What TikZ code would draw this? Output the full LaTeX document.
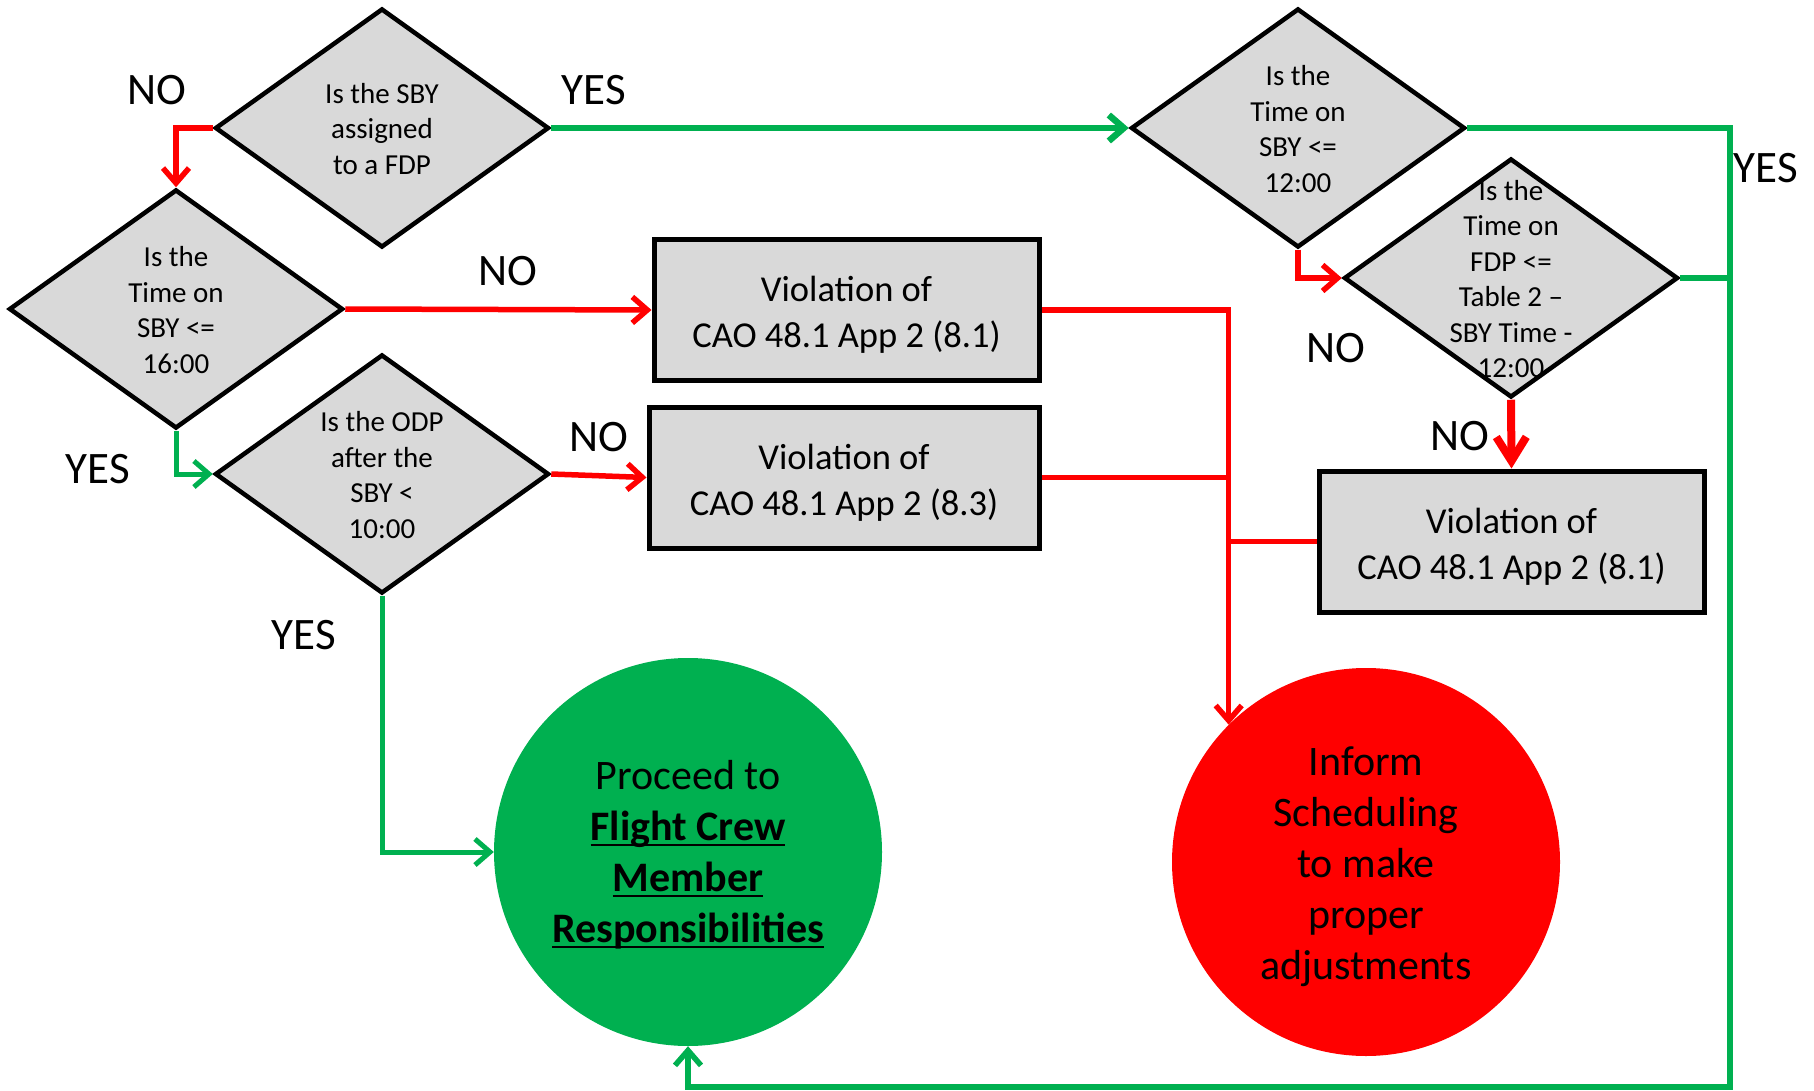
\documentclass[tikz,border=0pt]{standalone}
\usepackage{fontspec}
\setmainfont{Carlito}
\usetikzlibrary{shapes.geometric,arrows.meta,calc}
\definecolor{ggreen}{HTML}{00B050}
\definecolor{gfill}{HTML}{D9D9D9}
\newcommand\myul[1]{\setbox0\hbox{#1}\rlap{\rule[-6pt]{\wd0}{2.6pt}}\box0}
\begin{document}
\begin{tikzpicture}[x=1pt,y=-1pt,
 dia/.style={diamond, draw, line width=4.5pt, fill=gfill, minimum width=334pt, minimum height=239pt, inner sep=0pt},
 dtext/.style={font=\fontsize{29}{35.5}\selectfont, align=center, inner sep=0pt, yshift=-1pt},
 vbox/.style={rectangle, draw, line width=5pt, fill=gfill, minimum width=385pt, minimum height=140pt},
 btext/.style={align=center, font=\fontsize{36.5}{46}\selectfont, inner sep=0pt, yshift=-5pt},
 circ/.style={circle, minimum size=388pt, inner sep=0pt},
 ctext/.style={align=center, font=\fontsize{42}{51}\selectfont, inner sep=0pt},
 lbl/.style={font=\fontsize{45}{54}\selectfont, inner sep=0pt},
 gl/.style={draw=ggreen, line width=6.5pt},
 rl/.style={draw=red, line width=5.5pt},
 tip/.style={-{Straight Barb[length=15pt,width=26pt]}},
 bigtip/.style={-{Straight Barb[length=24pt,width=30pt]}},
]
\fill[white] (0,0) rectangle (1814,1091);
\useasboundingbox (0,0) rectangle (1814,1091);

% diamonds
\node[dia, label={[dtext]center:{Is the SBY\\assigned\\to a FDP}}] (d1) at (382,128) {};
\node[dia, label={[dtext]center:{Is the\\Time on\\SBY <=\\16:00}}] (d2) at (176,309) {};
\node[dia, label={[dtext]center:{Is the ODP\\after the\\SBY <\\10:00}}] (d3) at (382,474) {};
\node[dia, label={[dtext]center:{Is the\\Time on\\SBY <=\\12:00}}] (d4) at (1298,128) {};
\node[dia, label={[dtext]center:{Is the\\Time on\\FDP <=\\Table 2 –\\SBY Time -\\12:00}}] (d5) at (1511,278) {};

% boxes
\node[vbox, label={[btext]center:{Violation of\\CAO 48.1 App 2 (8.1)}}] (b1) at (846.5,310) {};
\node[vbox, minimum width=390pt, minimum height=141pt, label={[btext]center:{Violation of\\CAO 48.1 App 2 (8.3)}}] (b2) at (844,477.5) {};
\node[vbox, minimum height=141pt, label={[btext]center:{Violation of\\CAO 48.1 App 2 (8.1)}}] (b3) at (1511.5,541.5) {};

% circles
\node[circ, fill=ggreen, label={[ctext,yshift=-2.5pt]center:{Proceed to\\\textbf{\myul{Flight Crew}}\\\textbf{\myul{Member}}\\\textbf{\myul{Responsibilities}}}}] (gc) at (688,852) {};
\node[circ, fill=red, label={[ctext,yshift=-5pt]center:{Inform\\Scheduling\\to make\\proper\\adjustments}}] (rc) at (1366,862) {};

% connectors
\draw[rl,tip] (d1.west) -| (d2.north);
\draw[gl,tip] (d1.east) -- (d4.west);
\draw[rl,tip] (d2.east) -- (b1.west);
\draw[gl,line width=5pt,tip] (d2.south) |- (d3.west);
\draw[rl,tip] (d3.east) -- (b2.west);
\draw[gl,line width=5pt,tip] (d3.south) |- (gc.west);
\coordinate (jr) at (rc.135);
\draw[rl,tip] (b1.east) -| (jr);
\draw[rl] (b2.east) -- (b2.east -| jr);
\draw[rl] (b3.west) -- (b3.west -| jr);
\draw[rl,tip] (d4.south) |- (d5.west);
\coordinate (gb) at (1730,1087);
\draw[gl,line width=5.5pt,tip] (d4.east) -| (gb) -| (gc.south);
\draw[gl,line width=5.5pt] (d5.east) -- (d5.east -| gb);
\draw[rl,line width=8pt,bigtip] (d5.south) -- (b3.north);

% labels
\node[lbl] (l1) at (157,90) {NO};
\node[lbl] (l2) at (594,90) {YES};
\node[lbl] (l3) at (508,271) {NO};
\node[lbl] (l4) at (98,469) {YES};
\node[lbl] (l5) at (599,437) {NO};
\node[lbl] (l6) at (304,635) {YES};
\node[lbl] (l7) at (1766,168) {YES};
\node[lbl] (l8) at (1336,348) {NO};
\node[lbl] (l9) at (1460,436) {NO};
\end{tikzpicture}
\end{document}
